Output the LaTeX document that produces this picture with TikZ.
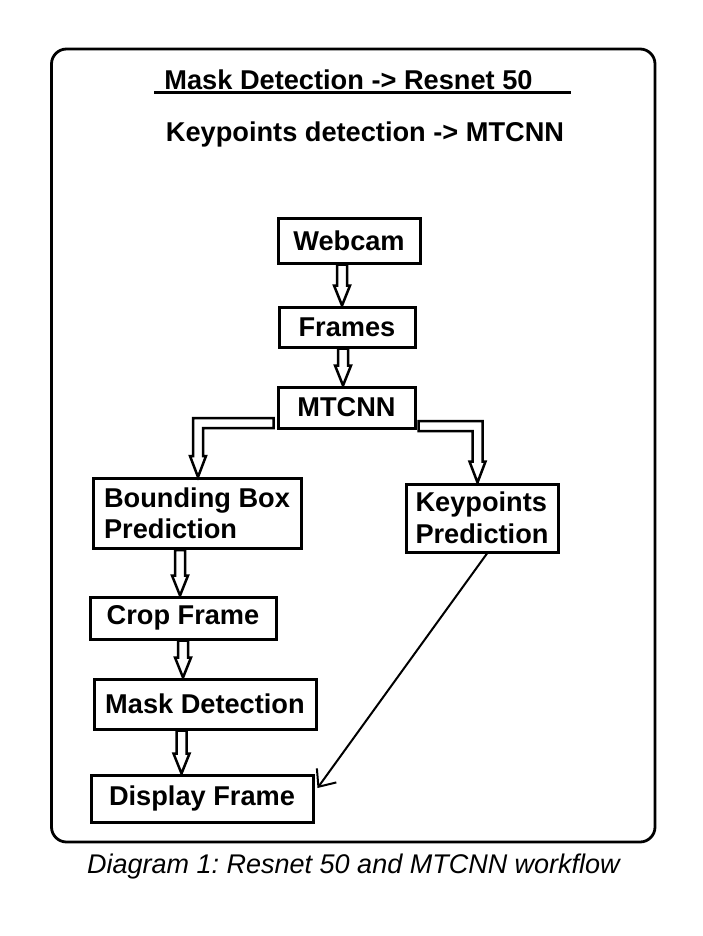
\documentclass[tikz,border=0pt]{standalone}
\usepackage{fontspec}
\setmainfont{Liberation Sans}
\usetikzlibrary{calc,arrows.meta}
\frenchspacing
\tikzset{
  box/.style={draw, line width=3pt, font=\bfseries\fontsize{27.2}{31.5}\selectfont, align=center, inner sep=0pt},
  boxl/.style={box, align=left},
  titletext/.style={font=\bfseries\fontsize{27.2}{31.5}\selectfont, inner sep=0pt, anchor=base},
  captext/.style={font=\itshape\fontsize{27}{32}\selectfont, inner sep=0pt, anchor=base},
  varrow/.style={line width=2.5pt, line join=miter, to path={let \p1=(\tikztostart), \p2=(\tikztotarget) in
     (\x1-5pt,\y1) -- (\x1-5pt,\y2+20pt) -- (\x1-8pt,\y2+20pt) -- (\x1,\y2) -- (\x1+8pt,\y2+20pt) -- (\x1+5pt,\y2+20pt) -- (\x1+5pt,\y1) -- cycle}},
  larrowleft/.style={line width=2.5pt, line join=miter, to path={let \p1=(\tikztostart), \p2=(\tikztotarget) in
     (\x1,\y1+5pt) -- (\x2-5pt,\y1+5pt) -- (\x2-5pt,\y2+21pt) -- (\x2-8pt,\y2+21pt) -- (\x2,\y2) -- (\x2+8pt,\y2+21pt) -- (\x2+5pt,\y2+21pt) -- (\x2+5pt,\y1-5pt) -- (\x1,\y1-5pt) -- cycle}},
  larrowright/.style={line width=2.5pt, line join=miter, to path={let \p1=(\tikztostart), \p2=(\tikztotarget) in
     (\x1,\y1+5pt) -- (\x2+5pt,\y1+5pt) -- (\x2+5pt,\y2+21pt) -- (\x2+8pt,\y2+21pt) -- (\x2,\y2) -- (\x2-8pt,\y2+21pt) -- (\x2-5pt,\y2+21pt) -- (\x2-5pt,\y1-5pt) -- (\x1,\y1-5pt) -- cycle}},
  thinarrow/.style={line width=2pt, -{Straight Barb[length=14pt,width=24pt]}}
}
\begin{document}
\begin{tikzpicture}[x=1pt,y=-1pt]
\useasboundingbox (0,0) rectangle (703,936);
% outer frame
\draw[line width=2.8pt, rounded corners=15pt] (51.5,49) rectangle (655,842);
% titles
\node[titletext] (title) at (348.5,90) {Mask Detection -> Resnet 50};
\draw[line width=2.8pt] ($(title.base west)+(-10,2.5)$) -- ($(title.base east)+(38,2.5)$);
\node[titletext] (sub) at (365,142) {Keypoints detection -> MTCNN};
% boxes
\node[box, minimum width=142pt, minimum height=45pt] (webcam) at (349,240.5) {Webcam};
\node[box, minimum width=136pt, minimum height=40pt] (frames) at (347,327) {Frames};
\node[box, minimum width=137pt, minimum height=41pt] (mtcnn) at (346.5,407.5) {MTCNN};
\node[boxl, minimum width=208pt, minimum height=70pt] (bbox) at (197,513.5) {Bounding Box\\Prediction};
\node[boxl, minimum width=152pt, minimum height=68pt] (kp) at (482,518) {Keypoints\\Prediction};
\node[box, minimum width=186pt, minimum height=42pt] (crop) at (183,618) {Crop Frame};
\node[box, minimum width=222pt, minimum height=50pt] (mask) at (205,704) {Mask Detection};
\node[box, minimum width=222pt, minimum height=47pt] (display) at (202,798.5) {Display Frame};
% block arrows
\draw[varrow] ([xshift=-7pt]webcam.south) to (frames.north);
\draw[varrow] ([xshift=-4pt]frames.south) to (mtcnn.north);
\draw[larrowleft] ([xshift=-3pt,yshift=-15.5pt]mtcnn.west) to ([xshift=1pt]bbox.north);
\draw[larrowright] ([xshift=2pt,yshift=-18.5pt]mtcnn.east) to ([xshift=-4.5pt]kp.north);
\draw[varrow] ([xshift=-17pt]bbox.south) to (crop.north);
\draw[varrow] ([xshift=0pt]crop.south) to (mask.north);
\draw[varrow] ([xshift=-23.5pt]mask.south) to (display.north);
% thin arrow
\draw[thinarrow] ([xshift=5pt]kp.south) -- ([shift={(3pt,10.5pt)}]display.east);
% caption
\node[captext] (cap) at (353.5,873) {Diagram 1: Resnet 50 and MTCNN workflow};
\end{tikzpicture}
\end{document}
